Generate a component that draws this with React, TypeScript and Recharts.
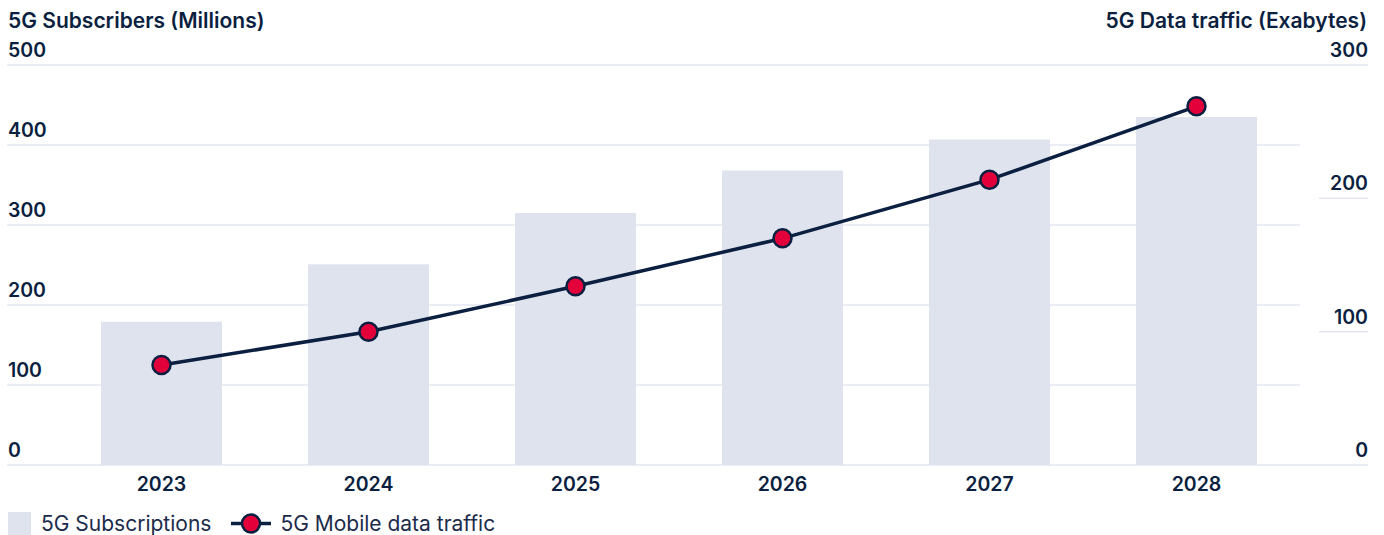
import React from "react";
import { ComposedChart, Bar, Line, XAxis, YAxis, CartesianGrid, Legend } from "recharts";

const years = ["2023", "2024", "2025", "2026", "2027", "2028"];
const subscriptions = [179, 251, 315, 368, 407, 435];
const dataTraffic = [75, 100, 134, 170, 214, 269];
const leftTicks = [0, 100, 200, 300, 400, 500];
const rightTicks = [0, 100, 200, 300];

const data = years.map((year, i) => ({
  year,
  subscriptions: subscriptions[i],
  traffic: dataTraffic[i],
}));

const NAVY = "#0b1f40";
const FONT = "Inter, 'Noto Sans', sans-serif";
const TICK_SIZE = 19.5;

const LeftTick = (props: any) => {
  const { y, payload } = props;
  return (
    <text x={8} y={y - 8} textAnchor="start" fill={NAVY} fontSize={TICK_SIZE} fontWeight={600} fontFamily={FONT}>
      {payload.value}
    </text>
  );
};

const RightTick = (props: any) => {
  const { y, payload } = props;
  const edge = payload.value === 0 || payload.value === 300;
  return (
    <g>
      <line x1={edge ? 1300 : 1319} x2={1368} y1={y} y2={y} stroke="#e4e7f1" strokeWidth={1.5} />
      <text x={1368} y={y - 8} textAnchor="end" fill={NAVY} fontSize={TICK_SIZE} fontWeight={600} fontFamily={FONT}>
        {payload.value}
      </text>
    </g>
  );
};

const XTick = (props: any) => {
  const { x, y, payload } = props;
  return (
    <text x={x} y={y + 18} textAnchor="middle" fill={NAVY} fontSize={TICK_SIZE} fontWeight={600} fontFamily={FONT}>
      {payload.value}
    </text>
  );
};

const LegendContent = (props: any) => {
  const payload = [...(props.payload || [])].sort((a: any, b: any) => (a.type === "square" ? -1 : 0) - (b.type === "square" ? -1 : 0));
  return (
    <div style={{ height: 30, display: "flex", alignItems: "flex-start", paddingTop: 7, boxSizing: "border-box", fontFamily: FONT, fontSize: 21, color: "#1c2b4b" }}>
      {payload.map((entry: any) => (
        <div key={entry.value} style={{ display: "flex", alignItems: "center", marginRight: 19 }}>
          {entry.type === "square" ? (
            <span style={{ display: "inline-block", width: 23, height: 23, background: "#dfe3ee", marginRight: 10 }} />
          ) : (
            <svg width={42} height={23} style={{ marginRight: 8 }}>
              <line x1={1} x2={41} y1={11.5} y2={11.5} stroke={NAVY} strokeWidth={3.5} />
              <circle cx={21} cy={11.5} r={9} fill="#e3003a" stroke={NAVY} strokeWidth={2.5} />
            </svg>
          )}
          <span style={{ lineHeight: "21px" }}>{entry.value}</span>
        </div>
      ))}
    </div>
  );
};

const titleStyle: React.CSSProperties = {
  position: "absolute",
  top: 9,
  fontFamily: FONT,
  fontSize: 21,
  fontWeight: 600,
  color: NAVY,
  lineHeight: "23px",
};

export default function App() {
  return (
    <div style={{ position: "relative", width: 1384, height: 535, overflow: "hidden" }}>
      <style>{`body{margin:0}`}</style>
      <div style={{ ...titleStyle, left: 8 }}>5G Subscribers (Millions)</div>
      <div style={{ ...titleStyle, right: 17 }}>5G Data traffic (Exabytes)</div>
      <ComposedChart width={1384} height={535} data={data} margin={{ top: 65, right: 0, left: 6, bottom: 0 }}>
        <CartesianGrid yAxisId="left" horizontal vertical={false} stroke="#e4e7f1" strokeWidth={1.5} />
        <XAxis dataKey="year" axisLine={false} tickLine={false} height={40} padding={{ left: 51, right: 0 }} tick={<XTick />} interval={0} />
        <YAxis yAxisId="left" orientation="left" width={1} domain={[0, 500]} ticks={leftTicks} axisLine={false} tickLine={false} tick={<LeftTick />} interval={0} />
        <YAxis yAxisId="right" orientation="right" width={84} domain={[0, 300]} ticks={rightTicks} axisLine={false} tickLine={false} tick={<RightTick />} interval={0} />
        <Legend verticalAlign="bottom" align="left" content={<LegendContent />} wrapperStyle={{ left: 8, height: 30 }} />
        <Bar yAxisId="left" dataKey="subscriptions" name="5G Subscriptions" fill="#dfe3ee" barSize={121} legendType="square" isAnimationActive={false} />
        <Line yAxisId="right" dataKey="traffic" name="5G Mobile data traffic" stroke={NAVY} strokeWidth={3.5} legendType="line"
          dot={{ r: 9, fill: "#e3003a", stroke: NAVY, strokeWidth: 2.5 }} activeDot={false} isAnimationActive={false} />
      </ComposedChart>
    </div>
  );
}
